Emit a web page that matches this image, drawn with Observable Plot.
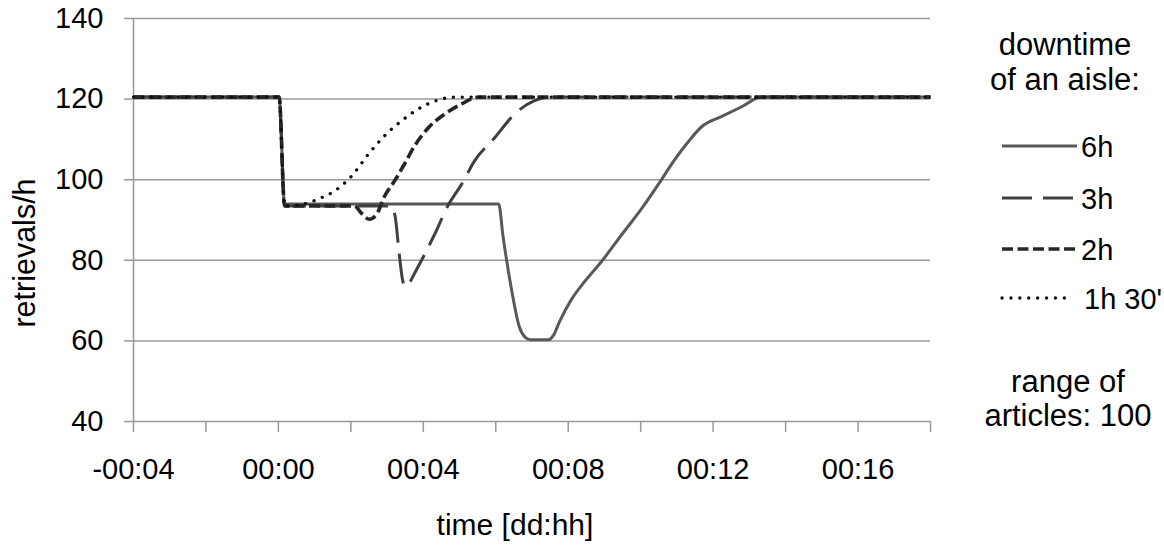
<!DOCTYPE html>
<html>
<head>
<meta charset="utf-8">
<script src="https://cdn.jsdelivr.net/npm/d3@7"></script>
<script src="https://cdn.jsdelivr.net/npm/@observablehq/plot@0.6"></script>
<style>
  html, body { margin: 0; padding: 0; background: #fff; }
  #chart svg { display: block; }
</style>
</head>
<body>
<div id="chart"></div>
<script>
// ---- data ----
const seriesNames = ["6h", "3h", "2h", "1h 30'"];

const t6h = [-4, 0.02, 0.17, 6.08, 6.2, 6.45, 6.65, 6.8, 6.95, 7.45, 7.6, 7.76, 8.09, 8.45, 8.92, 9.48, 10.03, 10.58, 10.91, 11.33, 11.69, 12.24, 12.79, 13.34, 18];
const v6h = [120.5, 120.5, 94, 94, 86, 72, 63.5, 61, 60.3, 60.3, 61.5, 64.8, 70.3, 74.7, 79.7, 86.4, 92.9, 100.1, 104.6, 109.6, 113.2, 115.7, 118.1, 120.5, 120.5];

const t3h = [-4, 0.02, 0.17, 3.1, 3.22, 3.33, 3.42, 3.5, 3.62, 3.76, 4.31, 4.7, 5.06, 5.41, 5.97, 6.52, 7.07, 7.5, 18];
const v3h = [120.5, 120.5, 93.5, 93.5, 91, 82, 75.5, 73.5, 74.5, 76.8, 86.4, 93.9, 98.9, 104.6, 110.4, 116.3, 119.6, 120.5, 120.5];

const t2h = [-4, 0.02, 0.17, 2.1, 2.29, 2.51, 2.71, 2.93, 3.2, 3.48, 3.76, 4.14, 4.59, 5.06, 5.52, 18];
const v2h = [120.5, 120.5, 93.5, 93.5, 91.7, 90.2, 91.4, 95.9, 99.6, 103.9, 108.4, 112.9, 116.3, 118.8, 120.5, 120.5];

const t1h30 = [-4, 0.02, 0.17, 0.5, 0.8, 1.1, 1.55, 2.02, 2.49, 2.93, 3.4, 3.87, 4.42, 4.86, 18];
const v1h30 = [120.5, 120.5, 93.5, 93.6, 94.2, 95.2, 97.2, 100.9, 106.4, 110.9, 114.6, 117.6, 119.8, 120.5, 120.5];

const yTicks = [40, 60, 80, 100, 120, 140];
const xMinorTicks = [-4, -2, 0, 2, 4, 6, 8, 10, 12, 14, 16, 18];
const xLabelTicks = [-4, 0, 4, 8, 12, 16];

const legendTitle = ["downtime", "of an aisle:"];
const legendNote = ["range of", "articles: 100"];
const xTitle = "time [dd:hh]";
const yTitle = "retrievals/h";

// ---- build tables ----
const mk = (ts, vs, s) => ts.map((t, i) => ({t, v: vs[i], series: s}));
const d6 = mk(t6h, v6h, seriesNames[0]);
const d3h = mk(t3h, v3h, seriesNames[1]);
const d2 = mk(t2h, v2h, seriesNames[2]);
const d1 = mk(t1h30, v1h30, seriesNames[3]);

const styles = [
  {stroke: "#595959", strokeWidth: 3, dash: null, cap: "butt"},
  {stroke: "#404040", strokeWidth: 3, dash: "30,11", cap: "butt"},
  {stroke: "#262626", strokeWidth: 3.6, dash: "11,4.5", cap: "butt"},
  {stroke: "#111111", strokeWidth: 3.3, dash: "0.1,8.8", cap: "round"}
];

const fmt = t => (t < 0 ? "-" : "") + "00:" + String(Math.abs(t)).padStart(2, "0");

const FONT = "'Liberation Sans', Arial, sans-serif";
const FS = 29;
const FS2 = 31;

const lineMark = (data, st) => Plot.line(data, {
  x: "t", y: "v", stroke: st.stroke, strokeWidth: st.strokeWidth,
  strokeDasharray: st.dash || undefined, strokeLinecap: st.cap, strokeLinejoin: "round",
  curve: "monotone-x"
});

const chart = Plot.plot({
  width: 1164,
  height: 546,
  marginLeft: 133,
  marginRight: 234,
  marginTop: 18,
  marginBottom: 125,
  style: {fontFamily: FONT, fontSize: FS + "px", background: "#fff", color: "#000"},
  x: {domain: [-4, 18], label: null},
  y: {domain: [40, 140], label: null},
  marks: [
    Plot.gridY(yTicks, {stroke: "#999", strokeOpacity: 1, strokeWidth: 1.5}),
    Plot.ruleX([-4], {stroke: "#999", strokeWidth: 1.5}),
    Plot.axisY({ticks: yTicks, tickSize: 9, tickFormat: () => "", stroke: "#999", strokeWidth: 1.5, label: null}),
    Plot.axisY({ticks: yTicks, tickSize: 0, tickPadding: 30, fill: "#000", label: null}),
    Plot.axisX({ticks: xMinorTicks, tickSize: 11, tickFormat: () => "", stroke: "#999", strokeWidth: 1.5, label: null}),
    Plot.axisX({ticks: xLabelTicks, tickSize: 0, tickPadding: 37, tickFormat: fmt, fill: "#000", label: null}),
    lineMark(d6, styles[0]),
    lineMark(d3h, styles[1]),
    lineMark(d2, styles[2]),
    lineMark(d1, styles[3])
  ]
});

document.getElementById("chart").appendChild(chart);

// ---- axis titles and legend ----
const svg = d3.select(chart);
const txt = (x, y, s, anchor = "middle", rot = 0, fs = FS2) => {
  const e = svg.append("text")
    .attr("x", x).attr("y", y)
    .attr("text-anchor", anchor)
    .attr("font-family", FONT)
    .attr("font-size", fs)
    .attr("fill", "#000")
    .text(s);
  if (rot) e.attr("transform", `rotate(${rot},${x},${y})`);
  return e;
};
txt(515, 535, xTitle, "middle", 0, 30);
txt(35, 253, yTitle, "middle", -90, 30.5);

txt(1065, 55, legendTitle[0]);
txt(1065, 90, legendTitle[1]);

const legendY = [146, 198, 249, 298];
seriesNames.forEach((name, i) => {
  const st = styles[i];
  const ln = svg.append("line")
    .attr("x1", 1002).attr("x2", i === 3 ? 1073 : 1077)
    .attr("y1", legendY[i]).attr("y2", legendY[i])
    .attr("stroke", st.stroke).attr("stroke-width", st.strokeWidth)
    .attr("stroke-linecap", st.cap);
  if (st.dash) ln.attr("stroke-dasharray", st.dash);
  txt(i === 3 ? 1084 : 1081, legendY[i] + 10.5, name, "start", 0, FS);
});

txt(1068, 392, legendNote[0]);
txt(1068, 426, legendNote[1]);
</script>
</body>
</html>
